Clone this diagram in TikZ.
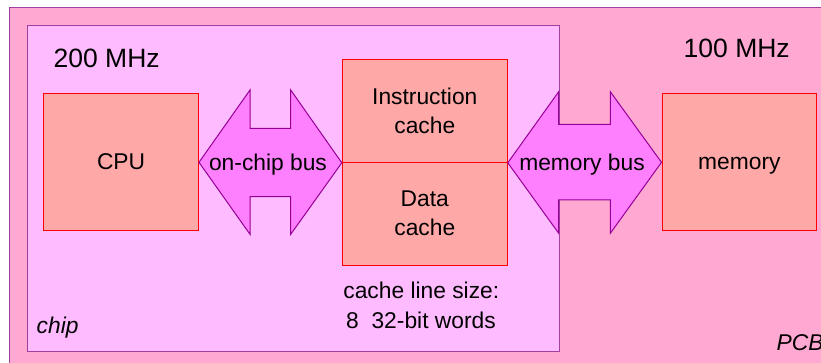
\documentclass[tikz,border=0pt]{standalone}
\usepackage{fontspec}
\setmainfont{Liberation Sans}
\definecolor{pcbfill}{RGB}{255,168,210}
\definecolor{chipfill}{RGB}{255,187,255}
\definecolor{boxfill}{RGB}{255,168,168}
\definecolor{busfill}{RGB}{255,128,255}
\definecolor{framecol}{RGB}{160,64,160}
\definecolor{buscol}{RGB}{150,0,150}
\begin{document}
\begin{tikzpicture}[x=1pt,y=-1pt,
  frame/.style={draw=framecol, line width=1.3pt},
  unit/.style={draw=red, fill=boxfill, line width=1pt, inner sep=0pt,
    font=\fontsize{22.8}{29}\selectfont, align=center},
  bus/.style={draw=buscol, fill=busfill, line width=1pt, line join=miter},
  lab/.style={font=\fontsize{22.8}{29}\selectfont, inner sep=0pt},
  freq/.style={font=\fontsize{26.5}{32}\selectfont, inner sep=0pt, anchor=base west}]
\useasboundingbox (0,0) rectangle (821,363);
\fill[white] (0,0) rectangle (821,363);
% PCB
\draw[frame, fill=pcbfill] (9.3,7.5) rectangle (860,400);
% chip
\node[frame, fill=chipfill, minimum width=532.5pt, minimum height=325.7pt,
  inner sep=0pt, anchor=north west] (chip) at (26.5,25) {};
% units
\node[unit, minimum width=154.8pt, minimum height=137.3pt, text height=16pt, text depth=2pt]
  (cpu) at (121.1,162.35) {CPU};
\node[unit, minimum width=165pt, minimum height=103pt] (icache) at (424.8,110.8) {Instruction\\cache};
\node[unit, minimum width=165pt, minimum height=102.7pt] (dcache) at (424.8,213.65) {Data\\cache};
\node[unit, minimum width=154.7pt, minimum height=137.3pt, text height=16pt, text depth=2pt]
  (memory) at (739.35,162.35) {memory};
% buses
\draw[bus] (cpu.east) -- (250,90) -- (250,128.3) -- (290.7,128.3) -- (290.7,90)
  -- (icache.south west) -- (290.7,234.3) -- (290.7,196.7) -- (250,196.7) -- (250,234.3) -- cycle;
\draw[bus] (icache.south east) -- (558.7,91.7) -- (558.7,124.3) -- (610.3,124.3) -- (610.3,91.7)
  -- (memory.west) -- (610.3,233.3) -- (610.3,200) -- (558.7,200) -- (558.7,233.3) -- cycle;
\node[lab, anchor=base] (onchip) at (268,170.5) {on-chip bus};
\node[lab, anchor=base] (membus) at (582,170.5) {memory bus};
% labels
\node[freq] (f200) at (53.5,67.7) {200 MHz};
\node[freq] (f100) at (683.5,57.3) {100 MHz};
\node[lab, anchor=base] (cls1) at (421.3,298.3) {cache line size:};
\node[lab, anchor=base] (cls2) at (421,328.3) {8\ \ 32-bit words};
\node[lab, anchor=base west, font=\fontsize{22.8}{29}\selectfont\itshape] (chiplab) at (36.5,333.3) {chip};
\node[lab, anchor=base west, font=\fontsize{22.8}{29}\selectfont\itshape] (pcblab) at (776.5,350.7) {PCB};
\end{tikzpicture}
\end{document}
